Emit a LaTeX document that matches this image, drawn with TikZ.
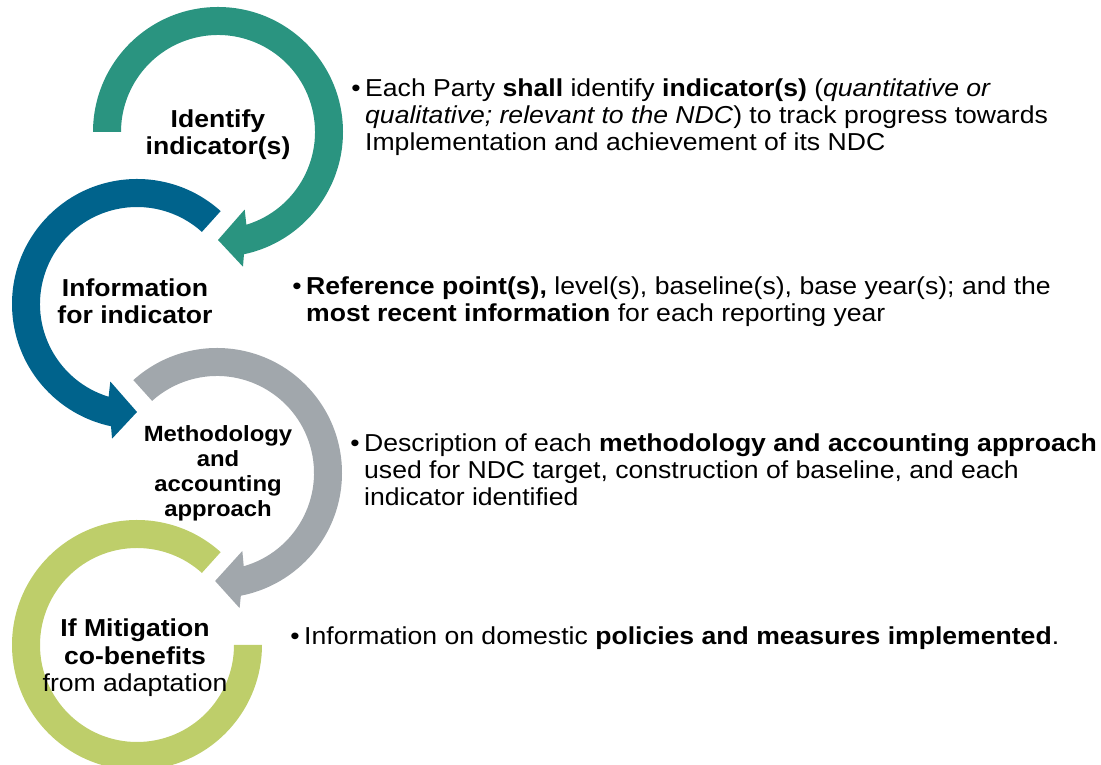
\documentclass[tikz,border=0pt]{standalone}
\usepackage{fontspec}
\setmainfont[FakeStretch=1.085]{Liberation Sans}
\definecolor{cteal}{RGB}{42,148,128}
\definecolor{cblue}{RGB}{0,99,140}
\definecolor{cgray}{RGB}{161,167,172}
\definecolor{cgreen}{RGB}{190,206,106}
\newcommand\cwarrow[4]{%
  \fill[#4, shift={#1}] (#2:125) arc[start angle=#2, end angle={#3+12}, radius=125]
    -- ({#3+10.5}:137) -- (#3:108) -- ({#3+19}:82) -- ({#3+17}:97)
    arc[start angle={#3+17}, end angle=#2, radius=97] -- cycle;}
\newcommand\ccwarrow[4]{%
  \fill[#4, shift={#1}] (#2:125) arc[start angle=#2, end angle={#3-12}, radius=125]
    -- ({#3-10.5}:137) -- (#3:108) -- ({#3-19}:82) -- ({#3-17}:97)
    arc[start angle={#3-17}, end angle=#2, radius=97] -- cycle;}
\begin{document}
\begin{tikzpicture}[x=1pt,y=1pt,
  body/.style={font=\fontsize{24.5}{27}\selectfont, anchor=base west, align=left, inner sep=0pt},
  bul/.style={font=\fontsize{24.5}{27}\selectfont, anchor=base, inner sep=0pt},
  lbl/.style={font=\fontsize{24.5}{27.5}\selectfont, anchor=base, align=center, inner sep=0pt},
  lblsmall/.style={font=\fontsize{22}{25}\selectfont\bfseries, anchor=base, align=center, inner sep=0pt}]
\useasboundingbox (0,0) rectangle (1101,765);
% circular arrows
\cwarrow{(218,633)}{180}{-90}{cteal}
\ccwarrow{(137,461)}{48}{270}{cblue}
\cwarrow{(217,292)}{132}{-91}{cgray}
\fill[cgreen, shift={(137,120)}] (48:125) arc[start angle=48, end angle=360, radius=125]
  -- (0:97) arc[start angle=360, end angle=48, radius=97] -- cycle;
% labels
\node[lbl] (l1) at (218,610) {\textbf{Identify}\\\textbf{indicator(s)}};
\node[lbl] (l2) at (135,441) {\textbf{Information}\\\textbf{for indicator}};
\node[lblsmall] (l3) at (218,248) {Methodology\\and\\accounting\\approach};
\node[lbl] (l4) at (135,73) {\textbf{If Mitigation}\\\textbf{co-benefits}\\from adaptation};
% bullets and texts
\node[bul] (b1) at (356,668) {•};
\node[body] (t1) at (365,614) {Each Party \textbf{shall} identify \textbf{indicator(s)} (\textit{quantitative or}\\\textit{qualitative; relevant to the NDC}) to track progress towards\\Implementation and achievement of its NDC};
\node[bul] (b2) at (297,470) {•};
\node[body] (t2) at (306,443) {\textbf{Reference point(s),} level(s), baseline(s), base year(s); and the\\\textbf{most recent information} for each reporting year};
\node[bul] (b3) at (355,313) {•};
\node[body] (t3) at (364,259) {Description of each \textbf{methodology and accounting approach}\\used for NDC target, construction of baseline, and each\\indicator identified};
\node[bul] (b4) at (295,120) {•};
\node[body] (t4) at (304,120) {Information on domestic \textbf{policies and measures implemented}.};
\end{tikzpicture}
\end{document}
